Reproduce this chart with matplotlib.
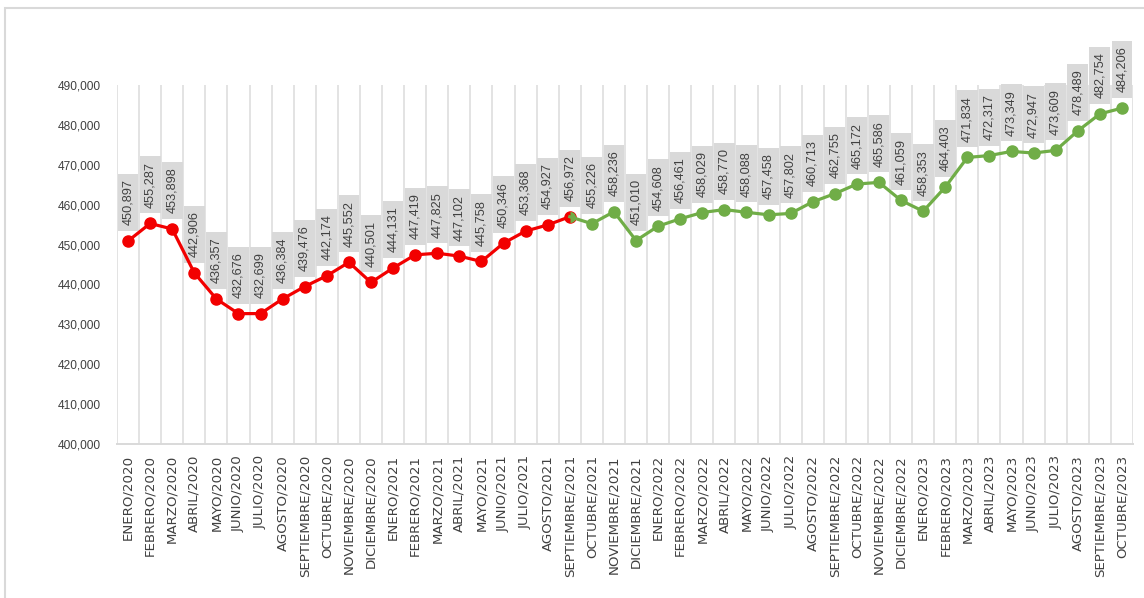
import matplotlib
matplotlib.use("Agg")
import matplotlib.pyplot as plt
from matplotlib.patches import Rectangle
import numpy as np

# Monthly values, ENERO/2020 .. OCTUBRE/2023
months = ["ENERO", "FEBRERO", "MARZO", "ABRIL", "MAYO", "JUNIO", "JULIO",
          "AGOSTO", "SEPTIEMBRE", "OCTUBRE", "NOVIEMBRE", "DICIEMBRE"]
years = [2020, 2021, 2022, 2023]

values_2020 = [450897, 455287, 453898, 442906, 436357, 432676, 432699, 436384,
               439476, 442174, 445552, 440501]
values_2021 = [444131, 447419, 447825, 447102, 445758, 450346, 453368, 454927,
               456972, 455226, 458236, 451010]
values_2022 = [454608, 456461, 458029, 458770, 458088, 457458, 457802, 460713,
               462755, 465172, 465586, 461059]
values_2023 = [458353, 464403, 471834, 472317, 473349, 472947, 473609, 478489,
               482754, 484206]

values = np.array(values_2020 + values_2021 + values_2022 + values_2023)
labels = [f"{m}/{y}" for y in years for m in months][:len(values)]
split = 20  # SEPTIEMBRE/2021: red up to here, green from here

RED = "#F20000"
GREEN = "#70AD47"
GRAY = "#D9D9D9"
TXT = "#404040"

fig = plt.figure(figsize=(11.44, 5.98), dpi=100)
ax = fig.add_axes([117 / 1144, 154 / 598, 1016 / 1144, 359 / 598])

x = np.arange(len(values))

# gray boxes behind the rotated value labels
box_gap = 2500
box_h = 14300
ax.bar(x, box_h, bottom=values + box_gap, width=0.94, color=GRAY,
       zorder=1, clip_on=False)
for xi, v in zip(x, values):
    ax.text(xi, v + box_gap + box_h / 2, f"{v:,}", rotation=90, ha="center",
            va="center", fontsize=9.2, color=TXT, family="Liberation Sans",
            zorder=2, clip_on=False)

# series
ax.plot(x[:split + 1], values[:split + 1], color=RED, lw=2.3, marker="o",
        ms=8, zorder=4, clip_on=False)
ax.plot(x[split:], values[split:], color=GREEN, lw=2.3, marker="o", ms=8,
        markevery=list(range(1, len(values) - split)), zorder=4, clip_on=False)
ax.plot(x[split], values[split], marker="o", ms=8, color=GREEN,
        fillstyle="right", markeredgewidth=0, zorder=5)

ax.set_xlim(-0.5, len(values) - 0.5)
ax.set_ylim(400000, 490000)
ax.set_yticks(np.arange(400000, 490001, 10000))
ax.set_yticklabels([f"{t:,}" for t in range(400000, 490001, 10000)],
                   fontsize=8.6, color=TXT, family="Liberation Sans")
ax.set_xticks(x)
ax.set_xticklabels(labels, rotation=90, fontsize=9.6, color=TXT)
ax.set_xticks(np.arange(-0.5, len(values)), minor=True)
ax.grid(which="minor", axis="x", color="#DEDEDE", lw=1.2, zorder=0)
ax.set_axisbelow(True)
ax.tick_params(axis="both", which="both", length=0)
ax.tick_params(axis="y", pad=12)
ax.tick_params(axis="x", pad=8)

for side in ["left", "right", "top"]:
    ax.spines[side].set_visible(False)
ax.spines["bottom"].set_color(GRAY)
ax.spines["bottom"].set_linewidth(1.4)

# chart frame (only left and top edges are in view)
fig.patches.append(Rectangle((5 / 1144, -0.2), 1.2, 0.2 + 590 / 598,
                             transform=fig.transFigure, fill=False,
                             edgecolor=GRAY, lw=1.5))

fig.savefig("out.png", dpi=100)
